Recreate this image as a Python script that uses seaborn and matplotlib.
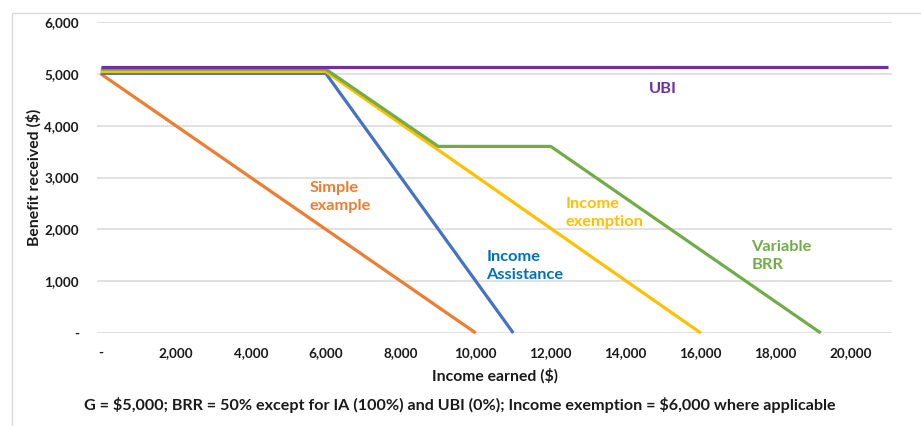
import numpy as np
import pandas as pd
import seaborn as sns
import matplotlib.pyplot as plt
from matplotlib.ticker import FuncFormatter, MultipleLocator
from matplotlib.patches import Rectangle

# Benefit schedules: income earned ($) vs benefit received ($)
simple_x = [0, 10000]
simple_y = [5000, 0]

ia_x = [0, 6000, 11000]
ia_y = [5010, 5010, 0]

exemption_x = [0, 6000, 16000]
exemption_y = [5045, 5045, 0]

variable_x = [0, 6000, 9000, 12000, 19200]
variable_y = [5090, 5090, 3600, 3600, 0]

ubi_x = [0, 21000]
ubi_y = [5125, 5125]

series_names = ["Simple example", "Income Assistance", "Income exemption", "Variable BRR", "UBI"]
series_colors = ["#ED7D31", "#4472C4", "#FFC000", "#70AD47", "#7030A0"]

frames = []
for name, xs, ys in zip(series_names,
                        [simple_x, ia_x, exemption_x, variable_x, ubi_x],
                        [simple_y, ia_y, exemption_y, variable_y, ubi_y]):
    frames.append(pd.DataFrame({"income": xs, "benefit": ys, "scheme": name}))
df = pd.concat(frames, ignore_index=True)

sns.set_theme(style="white")
plt.rcParams["font.family"] = ["Lato", "DejaVu Sans"]
plt.rcParams["font.weight"] = "bold"
plt.rcParams["text.parse_math"] = False

fig = plt.figure(figsize=(9.21, 4.26), dpi=100)
ax = fig.add_axes([97 / 921, 1 - 333 / 426, (892 - 97) / 921, (333 - 22) / 426])

# light chart-area frame
fig.patches.append(Rectangle((12 / 921, -0.1), 1.2, 1 - 13 / 426 + 0.1,
                             transform=fig.transFigure, fill=False,
                             edgecolor="#d9d9d9", linewidth=1.0, zorder=0))

sns.lineplot(data=df, x="income", y="benefit", hue="scheme",
             hue_order=series_names, palette=series_colors,
             sort=False, estimator=None, linewidth=2.3, legend=False, ax=ax)
for ln in ax.lines:
    ln.set_clip_on(False)
    ln.set_solid_capstyle("butt")

ax.set_xlim(-100, 21100)
ax.set_ylim(0, 6000)
ax.yaxis.set_major_locator(MultipleLocator(1000))
fmt = FuncFormatter(lambda v, p: "-" if abs(v) < 1e-9 else f"{v:,.0f}")
ax.xaxis.set_major_formatter(fmt)
ax.yaxis.set_major_formatter(fmt)
ax.set_xticks([0, 2000, 4000, 6000, 8000, 10000, 12000, 14000, 16000, 18000, 20000])

ax.grid(axis="y", color="#d9d9d9", linewidth=1.1)
ax.set_axisbelow(True)
for s in ax.spines.values():
    s.set_visible(False)
ax.tick_params(axis="both", length=0, labelsize=9.7, colors="#1a1a1a")
ax.tick_params(axis="x", pad=10)
ax.tick_params(axis="y", pad=13)

ax.set_xlabel("Income earned ($)", fontsize=11.3, fontweight="bold", color="#1a1a1a", labelpad=7)
ax.set_ylabel("Benefit received ($)", fontsize=11.3, fontweight="bold", color="#1a1a1a", labelpad=2)

lab_kw = dict(fontsize=11.8, fontweight="bold", linespacing=1.3)
ax.text(15000, 4700, "UBI", color="#7030A0", ha="center", va="center", **lab_kw)
ax.text(5560, 2625, "Simple\nexample", color="#ED7D31", ha="left", va="center", **lab_kw)
ax.text(10280, 1293, "Income\nAssistance", color="#0070C0", ha="left", va="center", **lab_kw)
ax.text(12390, 2317, "Income\nexemption", color="#FFC000", ha="left", va="center", **lab_kw)
ax.text(17350, 1486, "Variable\nBRR", color="#70AD47", ha="left", va="center", **lab_kw)

fig.text(460 / 921, 1 - 405 / 426,
         "G = $5,000; BRR = 50% except for IA (100%) and UBI (0%); Income exemption = $6,000 where applicable",
         ha="center", va="center", fontsize=11.6, fontweight="bold", color="#1a1a1a")

fig.savefig("out.png", dpi=100)
